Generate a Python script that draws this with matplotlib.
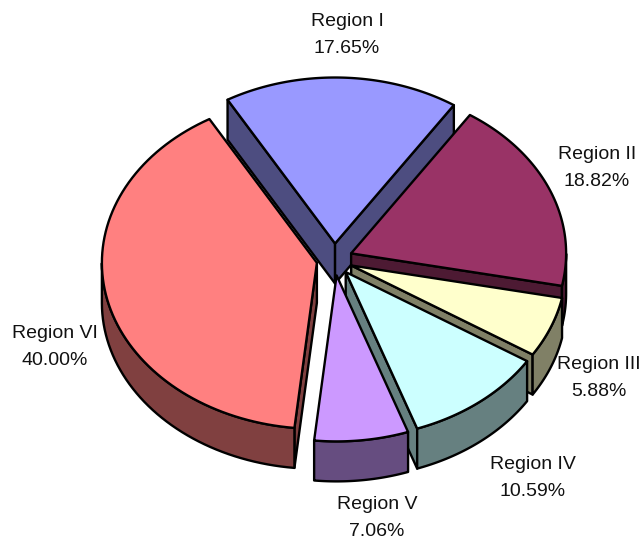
import numpy as np
import matplotlib
matplotlib.use("Agg")
import matplotlib.pyplot as plt
from matplotlib.patches import Polygon

regions = ["Region I", "Region II", "Region III", "Region IV", "Region V", "Region VI"]
shares = [17.65, 18.82, 5.88, 10.59, 7.06, 40.00]
top_colors = ["#9999FF", "#993366", "#FFFFCC", "#CCFFFF", "#CC99FF", "#FF8080"]
side_colors = ["#4D4D80", "#4D1A33", "#808066", "#668080", "#664D80", "#804040"]
label_pos = [(347, 35), (597, 168), (599, 378), (533, 478), (377, 518), (55, 347)]

cx, cy = 334.5, 259.5
rx, ry = 215, 166
ex, ey = 18, 16
depth = 40
start = 120
draw_order = [0, 1, 2, 3, 5, 4]

plt.rcParams["font.family"] = ["Liberation Sans", "DejaVu Sans"]
fig = plt.figure(figsize=(6.41, 5.40), dpi=100)
ax = fig.add_axes([0, 0, 1, 1])
ax.set_xlim(0, 641)
ax.set_ylim(540, 0)
ax.axis("off")

ends = start - np.cumsum(shares) * 3.6
starts = np.r_[start, ends[:-1]]


def add_poly(pts, color):
    ax.add_patch(Polygon(pts, closed=True, facecolor=color, edgecolor="black",
                         linewidth=1.7, joinstyle="round"))


for i in draw_order:
    a0, a1 = starts[i], ends[i]
    mid = np.radians((a0 + a1) / 2)
    px = cx + ex * np.cos(mid)
    py = cy - ey * np.sin(mid)
    t = np.radians(np.linspace(a0, a1, 80))
    arc = np.c_[px + rx * np.cos(t), py - ry * np.sin(t)]
    apex = np.array([px, py])
    centre_dir = np.array([np.cos(mid) * rx, -np.sin(mid) * ry])

    # cut faces, only the ones turned to the viewer
    for corner in (arc[0], arc[-1]):
        d = corner - apex
        n = np.array([d[1], -d[0]])
        if n @ centre_dir > 0:
            n = -n
        if n[1] > 0:
            add_poly([apex, corner, corner + [0, depth], apex + [0, depth]], side_colors[i])

    # outer wall on the front half of the rim
    front = arc[np.sin(t) <= 0]
    if len(front) > 1:
        add_poly(np.r_[front, (front + [0, depth])[::-1]], side_colors[i])

    add_poly(np.r_[[apex], arc], top_colors[i])

for name, share, (x, y) in zip(regions, shares, label_pos):
    ax.text(x, y, f"{name}\n{share:.2f}%", ha="center", va="center",
            fontsize=14, color="#111111", linespacing=1.7)

fig.savefig("out.png", dpi=100)
